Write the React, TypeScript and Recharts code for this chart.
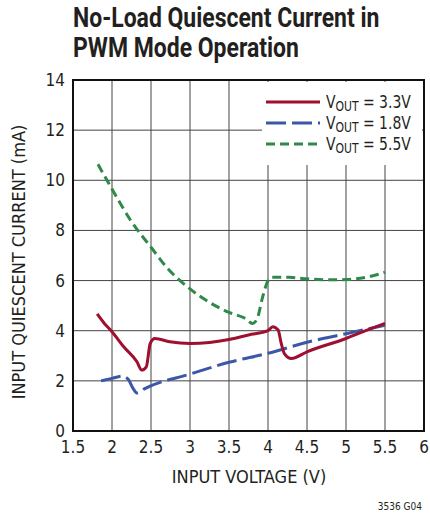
import { LineChart, Line, XAxis, YAxis, CartesianGrid, ReferenceArea } from 'recharts';

const FONT = "'Liberation Sans Narrow', 'DejaVu Sans Condensed', 'Roboto', sans-serif";
const TITLE_FONT = "Roboto, 'Liberation Sans', sans-serif";

const xTicks = [1.5, 2, 2.5, 3, 3.5, 4, 4.5, 5, 5.5, 6];
const yTicks = [0, 2, 4, 6, 8, 10, 12, 14];

// VOUT = 3.3V
const vin33 = [1.81, 1.9, 2.0, 2.15, 2.32, 2.38, 2.44, 2.49, 2.55, 2.74, 3.0, 3.25, 3.5, 3.75, 4.0, 4.06, 4.13, 4.17, 4.21, 4.3, 4.5, 5.0, 5.17, 5.5];
const iq33 = [4.67, 4.3, 3.96, 3.36, 2.76, 2.43, 2.56, 3.49, 3.69, 3.56, 3.49, 3.53, 3.65, 3.83, 4.0, 4.16, 4.03, 3.49, 3.09, 2.89, 3.16, 3.69, 3.9, 4.29];

// VOUT = 1.8V
const vin18 = [1.86, 2.0, 2.13, 2.21, 2.27, 2.32, 2.42, 3.0, 3.5, 4.0, 4.5, 5.0, 5.5];
const iq18 = [2.0, 2.1, 2.19, 2.05, 1.7, 1.52, 1.69, 2.27, 2.74, 3.1, 3.54, 3.88, 4.22];

// VOUT = 5.5V
const vin55 = [1.82, 2.0, 2.25, 2.5, 2.7, 3.0, 3.25, 3.5, 3.72, 3.8, 3.86, 3.93, 3.99, 4.05, 4.27, 4.5, 4.8, 5.0, 5.3, 5.5];
const iq55 = [10.64, 9.65, 8.35, 7.33, 6.53, 5.67, 5.13, 4.73, 4.47, 4.29, 4.47, 5.33, 5.93, 6.13, 6.13, 6.07, 6.03, 6.04, 6.16, 6.33];

const RED = '#9e0f30';
const BLUE = '#3b58a8';
const GREEN = '#2f8a4a';

function rows(v: number[], i: number[]) {
  return v.map((x, k) => ({ vin: x, iq: i[k] }));
}

const legendItems = [
  { label: '3.3V', color: RED, dash: undefined },
  { label: '1.8V', color: BLUE, dash: '20 6' },
  { label: '5.5V', color: GREEN, dash: '9 5' },
];

const titleLine = {
  position: 'absolute' as const,
  left: 73,
  fontFamily: TITLE_FONT,
  fontSize: 28,
  fontWeight: 'bold' as const,
  lineHeight: '28px',
  whiteSpace: 'nowrap' as const,
  transform: 'scaleX(0.82)',
  transformOrigin: 'left center',
};

export default function App() {
  return (
    <div style={{ position: 'absolute', left: 0, top: 0, width: 430, height: 514, background: '#fff', fontFamily: FONT, color: '#231f20' }}>
      <div style={{ ...titleLine, top: 4 }}>No-Load Quiescent Current in</div>
      <div style={{ ...titleLine, top: 34 }}>PWM Mode Operation</div>

      <LineChart width={430} height={514} margin={{ top: 80, right: 6, left: 43, bottom: 53 }}>
        <CartesianGrid stroke="#444" strokeWidth={1} />
        <XAxis
          type="number"
          dataKey="vin"
          domain={[1.5, 6]}
          ticks={xTicks}
          allowDataOverflow
          height={30}
          axisLine={false}
          tickLine={false}
          tickMargin={4}
          tick={{ fontSize: 17, fill: '#231f20', fontFamily: FONT }}
        />
        <YAxis
          type="number"
          domain={[0, 14]}
          ticks={yTicks}
          allowDataOverflow
          width={30}
          axisLine={false}
          tickLine={false}
          tick={{ fontSize: 17, fill: '#231f20', fontFamily: FONT }}
        />
        <ReferenceArea x1={1.5} x2={6} y1={0} y2={14} fill="none" stroke="#111" strokeWidth={2} />
        <Line data={rows(vin55, iq55)} dataKey="iq" type="monotone" stroke={GREEN} strokeWidth={3} strokeDasharray="9 5" dot={false} isAnimationActive={false} />
        <Line data={rows(vin18, iq18)} dataKey="iq" type="monotone" stroke={BLUE} strokeWidth={3} strokeDasharray="20 6" dot={false} isAnimationActive={false} />
        <Line data={rows(vin33, iq33)} dataKey="iq" type="monotone" stroke={RED} strokeWidth={3} dot={false} isAnimationActive={false} />
      </LineChart>

      <div style={{ position: 'absolute', left: 262, top: 82, width: 160, height: 83, background: '#fff' }}>
        {legendItems.map((it, k) => (
          <div key={k} style={{ position: 'absolute', left: 0, top: 9 + k * 21, height: 22, display: 'flex', alignItems: 'center' }}>
            <svg width={58} height={6} style={{ marginLeft: 4 }}>
              <line x1={0} y1={3} x2={54} y2={3} stroke={it.color} strokeWidth={3} strokeDasharray={it.dash} />
            </svg>
            <span style={{ fontSize: 18, whiteSpace: 'nowrap', marginLeft: 2, display: 'inline-block', transform: 'scaleX(0.86)', transformOrigin: 'left center' }}>
              V<sub style={{ fontSize: 14, verticalAlign: -3 }}>OUT</sub> = {it.label}
            </span>
          </div>
        ))}
      </div>

      <div style={{ position: 'absolute', left: 0, width: 498, top: 466, textAlign: 'center', fontSize: 18 }}>
        INPUT VOLTAGE (V)
      </div>
      <div
        style={{
          position: 'absolute',
          left: 18,
          top: 262,
          fontSize: 18,
          whiteSpace: 'nowrap',
          transform: 'translate(-50%, -50%) rotate(-90deg)',
        }}
      >
        INPUT QUIESCENT CURRENT (mA)
      </div>
      <div style={{ position: 'absolute', right: 8, top: 501, fontSize: 10 }}>3536 G04</div>
    </div>
  );
}
